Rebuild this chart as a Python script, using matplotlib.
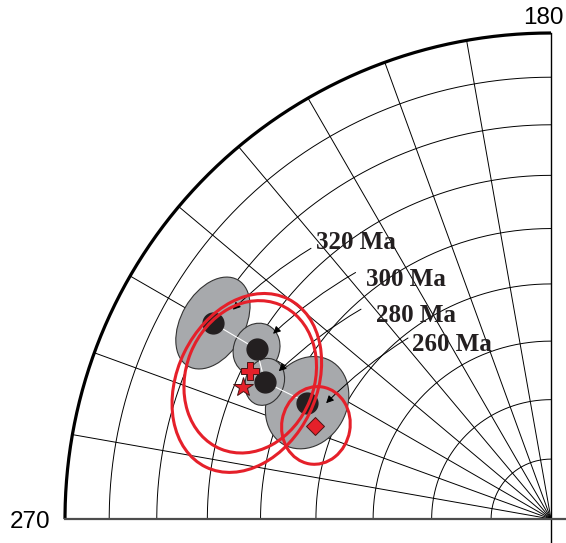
import numpy as np
import matplotlib.pyplot as plt
from matplotlib.patches import Ellipse

# mean poles of the reference path (age in Ma, lat/lon in degrees)
ages = [320, 300, 280, 260]
pole_lat = [20.7, 30.7, 35.0, 43.7]
pole_lon = [239.9, 240.0, 244.4, 244.5]
pole_dm = [8.3, 4.4, 4.0, 8.0]   # semi-axes of confidence ovals (deg)
pole_dp = [5.3, 3.8, 3.2, 6.6]
pole_tilt = [60, 65, 70, 61]

# new poles: plus, star, diamond
new_marker = ['P', '*', 'D']
new_lat = [31.5, 31.6, 46.7]
new_lon = [243.8, 246.9, 248.4]
# their confidence ellipses
ell_lat = [32.1, 32.0, 46.8]
ell_lon = [244.7, 245.9, 248.3]
ell_dm = [13.0, 15.6, 6.5]
ell_dp = [10.7, 11.6, 5.7]
ell_tilt = [68, 64, 80]

colat_grid = np.arange(10, 90, 10)
lon_grid = np.arange(190, 270, 10)

GRAY = '#a7a9ac'
RED = '#e5202a'
DEG = np.sqrt(0.5) * np.pi / 180  # mean equal-area scale, units per degree


def proj(lat, lon):
    # Lambert equal-area, pole at origin, equator at r=1, lon 180 up
    c = np.radians(90 - np.asarray(lat, float))
    r = np.sin(c / 2) / np.sin(np.pi / 4)
    a = np.radians(np.asarray(lon, float) - 90)
    return r * np.cos(a), r * np.sin(a)


fig = plt.figure(figsize=(5.66, 5.43), dpi=100)
ax = fig.add_axes([0, 0, 1, 1])
ax.axis('off')
ax.set_xlim(-551 / 486, 15 / 486)
ax.set_ylim(-24 / 486, 519 / 486)

# grid
t = np.linspace(np.pi / 2, np.pi, 200)
for c in colat_grid:
    r = np.sin(np.radians(c) / 2) / np.sin(np.pi / 4)
    ax.plot(r * np.cos(t), r * np.sin(t), color='k', lw=0.7, zorder=1)
for lon in lon_grid:
    x, y = proj([90, 0], [lon, lon])
    ax.plot(x, y, color='k', lw=0.7, zorder=1)
ax.plot(np.cos(t), np.sin(t), color='k', lw=2.3, zorder=2, solid_capstyle='butt')
ax.plot([0, 0], [-24 / 486, 1], color='k', lw=1.0, zorder=2)
ax.plot([-1, 15 / 486], [0, 0], color='#4d4d4d', lw=1.6, zorder=2)

ax.text(-1.031, -0.018, '270', fontsize=17.5, family='Liberation Sans',
        ha='right', va='baseline')
ax.text(-0.016, 1.019, '180', fontsize=17.5, family='Liberation Sans',
        ha='center', va='baseline')

# confidence ovals of the path
px, py = proj(pole_lat, pole_lon)
for i in [3, 0, 1, 2]:
    ax.add_patch(Ellipse((px[i], py[i]), 2 * pole_dm[i] * DEG, 2 * pole_dp[i] * DEG,
                         angle=pole_tilt[i], fc=GRAY, ec='#333333', lw=0.8, zorder=3))
ax.plot(px, py, color='white', lw=0.8, zorder=4)
ax.plot(px, py, 'o', color='#231f20', ms=15, zorder=5)

# age labels with leaders
starts = [(-0.4938, 0.557), (-0.4021, 0.5072), (-0.3909, 0.4317), (-0.2942, 0.3724)]
offs = [(0.0412, 0.0274), (0.034, 0.0313), (0.0288, 0.022), (0.0391, -0.001)]
texts = [(-0.4835, 0.5549), (-0.3807, 0.4794), (-0.3607, 0.406), (-0.2866, 0.3457)]
for i, age in enumerate(ages):
    ax.text(*texts[i], f'{age} Ma', fontsize=18, family='Liberation Serif',
            weight='bold', ha='left', va='baseline', color='#231f20', zorder=8)
    ax.annotate('', xy=(px[i] + offs[i][0], py[i] + offs[i][1]), xytext=starts[i],
                arrowprops=dict(arrowstyle='-|>', color='k', lw=0.7,
                                mutation_scale=11, shrinkA=0, shrinkB=0,
                                connectionstyle='arc3,rad=0.06'), zorder=6)

# new poles with their confidence ellipses
ex, ey = proj(ell_lat, ell_lon)
for i in range(3):
    ax.add_patch(Ellipse((ex[i], ey[i]), 2 * ell_dm[i] * DEG, 2 * ell_dp[i] * DEG,
                         angle=ell_tilt[i], fc='none', ec=RED, lw=2.2, zorder=7))
nx, ny = proj(new_lat, new_lon)
sizes = [13.5, 15, 9]
for i in range(3):
    ax.plot(nx[i], ny[i], new_marker[i], color=RED, ms=sizes[i],
            mec='#4a1414', mew=0.7, zorder=9)

fig.savefig('out.png', dpi=100)
